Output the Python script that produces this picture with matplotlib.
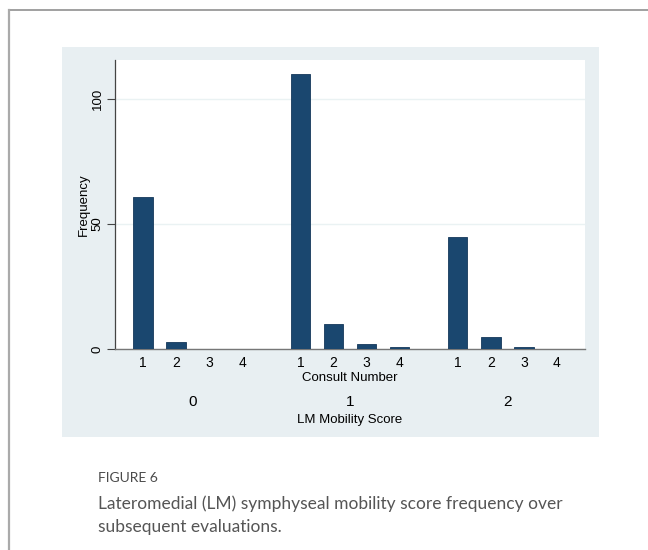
import numpy as np
import matplotlib
matplotlib.use("Agg")
import matplotlib.pyplot as plt
from matplotlib.patches import Rectangle
from matplotlib.lines import Line2D

# data
scores = ["0", "1", "2"]
consults = ["1", "2", "3", "4"]
freq_0 = [61, 3, 0, 0]
freq_1 = [110, 10, 2, 1]
freq_2 = [45, 5, 1, 0]

bar_color = "#1a476f"
bg_color = "#e8eff2"
W, H = 648, 550

plt.rcParams['font.family'] = ['Liberation Sans', 'DejaVu Sans']

fig = plt.figure(figsize=(W / 100, H / 100), dpi=100)
fig.patch.set_facecolor("white")

def fx(px):
    return px / W

def fy(py):
    return 1 - py / H

# outer page border (top and left)
fig.add_artist(Line2D([fx(8.5), 1], [fy(10), fy(10)], color="#999999", lw=1.3))
fig.add_artist(Line2D([fx(8.5), fx(8.5)], [fy(10), 0], color="#aaaaaa", lw=1.6))

# graph background
fig.add_artist(Rectangle((fx(62), fy(437)), fx(599) - fx(62), fy(47) - fy(437),
                         facecolor=bg_color, edgecolor="none", zorder=0))

ax = fig.add_axes([fx(115), fy(349), fx(585) - fx(115), fy(60) - fy(349)])
ax.set_facecolor("white")

group_gap = 4.77
width = 0.58
all_x = []
for g, vals in enumerate([freq_0, freq_1, freq_2]):
    xs = np.arange(len(consults)) + g * group_gap
    ax.bar(xs, vals, width=width, color=bar_color, edgecolor="#15385a", linewidth=0.6, zorder=3)
    all_x.extend(xs)

ax.set_xlim(-0.85, 2 * group_gap + 3 + 0.85)
ax.set_ylim(0, 115.7)

ax.set_yticks([0, 50, 100])
ax.set_yticklabels(["0", "50", "100"], rotation=90, va="center", fontsize=9.5)
ax.tick_params(axis="y", length=5.5, width=0.8, color="#444444", pad=2.5)
ax.yaxis.grid(True, color="#eaf2f3", lw=1.0, zorder=0)

ax.set_xticks(all_x)
ax.set_xticklabels(consults * 3, fontsize=10)
ax.tick_params(axis="x", length=0, pad=5)

for s in ["top", "right"]:
    ax.spines[s].set_visible(False)
ax.spines["left"].set_color("#444444")
ax.spines["left"].set_linewidth(0.9)
ax.spines["bottom"].set_color("#777777")
ax.spines["bottom"].set_linewidth(1.0)

ax.set_ylabel("Frequency", fontsize=9.5)
ax.yaxis.set_label_coords(-0.053, 0.5)

# second-level labels
ax.text((2 * group_gap + 3) / 2, -0.1, "Consult Number", transform=ax.get_xaxis_transform(),
        ha="center", va="center", fontsize=9.5)
for g, s in enumerate(scores):
    ax.text(g * group_gap + 1.5, -0.183, s, transform=ax.get_xaxis_transform(),
            ha="center", va="center", fontsize=11)
ax.text((2 * group_gap + 3) / 2, -0.245, "LM Mobility Score", transform=ax.get_xaxis_transform(),
        ha="center", va="center", fontsize=9.5)

# caption
fig.text(fx(98), fy(478), "FIGURE 6", fontsize=10, color="#4a4a4a", va="center",
         family=["Lato", "DejaVu Sans"])
fig.text(fx(98), fy(504), "Lateromedial (LM) symphyseal mobility score frequency over",
         fontsize=12.5, color="#555555", va="center", family=["Lato", "DejaVu Sans"])
fig.text(fx(98), fy(527), "subsequent evaluations.",
         fontsize=12.5, color="#555555", va="center", family=["Lato", "DejaVu Sans"])

fig.savefig("out.png", dpi=100)
